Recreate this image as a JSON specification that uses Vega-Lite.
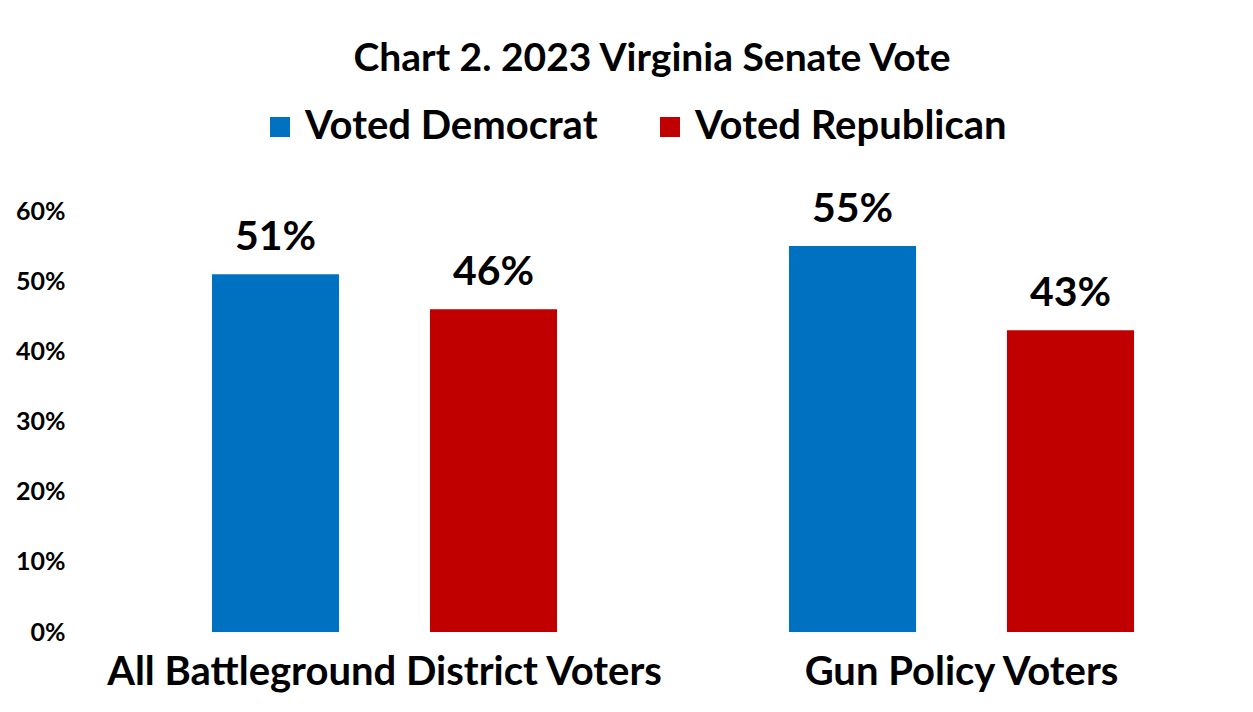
{
  "$schema": "https://vega.github.io/schema/vega-lite/v6.json",
  "autosize": {"type": "none"},
  "width": 1154,
  "height": 421,
  "padding": {"left": 96, "top": 211, "right": 3, "bottom": 80},
  "background": "white",
  "title": {
    "text": "Chart 2. 2023 Virginia Senate Vote",
    "font": "Lato",
    "fontSize": 39,
    "fontWeight": "bold",
    "color": "#000000",
    "anchor": "middle",
    "frame": "group",
    "dx": -21,
    "offset": 28
  },
  "data": {
    "values": [
      {"group": "All Battleground District Voters", "party": "Voted Democrat", "value": 0.51, "label": "51%"},
      {"group": "All Battleground District Voters", "party": "Voted Republican", "value": 0.46, "label": "46%"},
      {"group": "Gun Policy Voters", "party": "Voted Democrat", "value": 0.55, "label": "55%"},
      {"group": "Gun Policy Voters", "party": "Voted Republican", "value": 0.43, "label": "43%"}
    ]
  },
  "encoding": {
    "x": {
      "field": "group",
      "type": "nominal",
      "sort": null,
      "scale": {"paddingInner": 0, "paddingOuter": 0},
      "axis": {
        "title": null,
        "labelAngle": 0,
        "labelFont": "Lato",
        "labelFontSize": 40,
        "labelFontWeight": "bold",
        "labelColor": "#000000",
        "labelPadding": 20,
        "ticks": false,
        "domain": false,
        "labelLimit": 0
      }
    },
    "xOffset": {
      "field": "party",
      "type": "nominal",
      "sort": ["Voted Democrat", "Voted Republican"],
      "scale": {"paddingInner": 0.417, "paddingOuter": 0.532}
    },
    "y": {
      "field": "value",
      "type": "quantitative",
      "scale": {"domain": [0, 0.6], "nice": false},
      "axis": {
        "title": null,
        "format": ".0%",
        "values": [0, 0.1, 0.2, 0.3, 0.4, 0.5, 0.6],
        "labelFont": "Lato",
        "labelFontSize": 25,
        "labelFontWeight": "bold",
        "labelColor": "#000000",
        "labelPadding": 31,
        "ticks": false,
        "domain": false,
        "grid": false
      }
    }
  },
  "layer": [
    {
      "mark": {"type": "bar"},
      "encoding": {
        "color": {
          "field": "party",
          "type": "nominal",
          "sort": ["Voted Democrat", "Voted Republican"],
          "scale": {"domain": ["Voted Democrat", "Voted Republican"], "range": ["#0070C0", "#C00000"]},
          "legend": {
            "title": null,
            "orient": "none",
            "legendX": 164,
            "legendY": -104,
            "direction": "horizontal",
            "symbolType": "square",
            "symbolSize": 400,
            "symbolStrokeWidth": 0,
            "labelFont": "Lato",
            "labelFontSize": 40,
            "labelFontWeight": "bold",
            "labelColor": "#000000",
            "labelOffset": 5,
            "columnPadding": 52,
            "labelLimit": 0
          }
        }
      }
    },
    {
      "mark": {
        "type": "text",
        "font": "Lato",
        "fontSize": 41,
        "fontWeight": "bold",
        "color": "#000000",
        "baseline": "alphabetic",
        "dy": -24
      },
      "encoding": {
        "text": {"field": "label", "type": "nominal"}
      }
    }
  ],
  "config": {
    "view": {"stroke": null}
  }
}
